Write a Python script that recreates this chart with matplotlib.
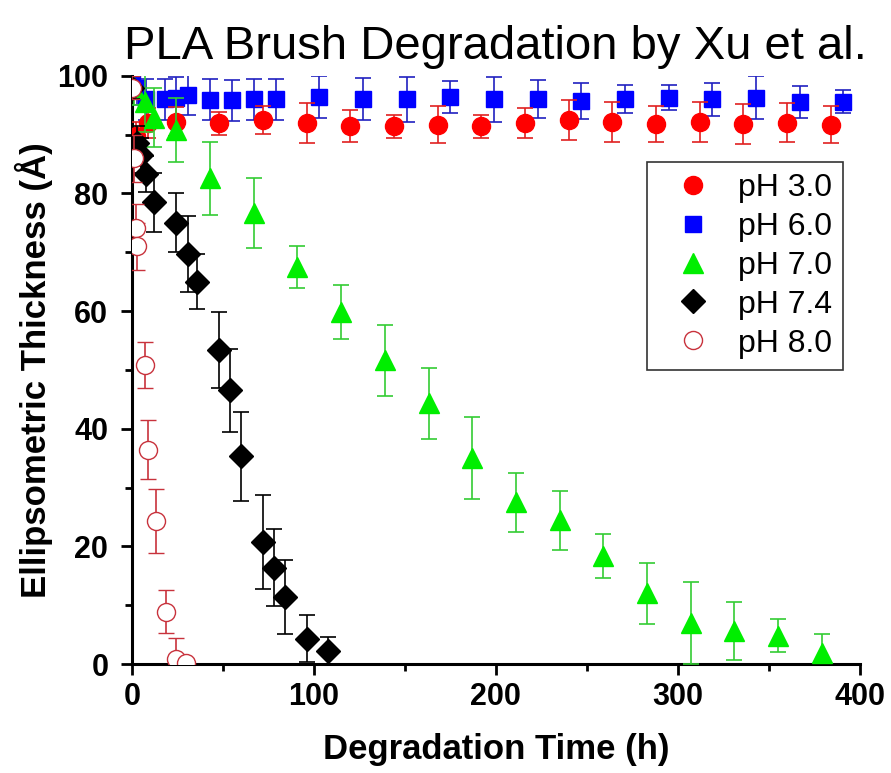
import matplotlib
matplotlib.use("Agg")
import matplotlib.pyplot as plt
from matplotlib.lines import Line2D
from matplotlib.ticker import MultipleLocator

# ---- data ----
ph30_x = [0, 2, 9, 24, 48, 72, 96, 120, 144, 168, 192, 216, 240, 264, 288, 312, 336, 360, 384]
ph30_y = [98, 89.7, 92.0, 92.2, 91.9, 92.5, 92.0, 91.4, 91.4, 91.7, 91.4, 92.0, 92.5, 92.2, 91.8, 92.2, 91.8, 92.0, 91.7]
ph30_e = [2.0, 2.5, 2.5, 2.5, 2.0, 2.4, 3.4, 2.7, 2.0, 3.1, 1.9, 2.6, 3.4, 3.4, 3.1, 3.4, 3.4, 3.3, 3.1]

ph60_x = [0, 3, 8, 18, 24, 31, 43, 55, 67, 79, 103, 127, 151, 175, 199, 223, 247, 271, 295, 319, 343, 367, 391]
ph60_y = [99.0, 98.0, 96.0, 96.0, 96.3, 96.8, 95.9, 95.8, 96.0, 96.0, 96.4, 96.0, 96.0, 96.4, 96.0, 96.0, 95.7, 96.0, 96.3, 96.0, 96.3, 95.6, 95.6]
ph60_e = [2.0, 3.0, 3.5, 3.5, 3.5, 3.5, 3.5, 3.5, 3.5, 3.5, 3.6, 3.6, 3.8, 2.7, 3.8, 3.2, 3.1, 2.4, 2.1, 2.8, 3.6, 2.7, 1.9]

ph70_x = [1, 7, 12, 24, 43, 67, 91, 115, 139, 163, 187, 211, 235, 259, 283, 307, 331, 355, 379]
ph70_y = [98.0, 95.5, 92.9, 90.8, 82.6, 76.7, 67.5, 59.9, 51.6, 44.3, 35.0, 27.5, 24.4, 18.4, 12.0, 7.0, 5.6, 4.8, 1.8]
ph70_e = [3.0, 5.0, 5.0, 5.5, 6.2, 6.0, 3.6, 4.6, 6.0, 6.1, 7.0, 5.0, 5.0, 3.7, 5.2, 7.0, 5.0, 2.8, 3.3]

ph74_x = [0, 3, 5, 8, 12, 24, 31, 36, 48, 54, 60, 72, 78, 84, 96, 108]
ph74_y = [98.0, 88.5, 86.5, 83.3, 78.5, 75.0, 69.7, 65.0, 53.4, 46.5, 35.3, 20.7, 16.4, 11.4, 4.3, 2.2]
ph74_e = [2.0, 3.0, 3.0, 3.0, 5.0, 5.0, 6.4, 4.7, 6.5, 7.0, 7.6, 8.0, 6.6, 6.3, 4.0, 2.4]

ph80_x = [0, 1, 2, 3, 7, 9, 13, 19, 24, 30]
ph80_y = [98.0, 86.0, 74.2, 71.0, 50.8, 36.4, 24.3, 8.9, 0.8, 0.2]
ph80_e = [2.0, 4.0, 4.0, 4.0, 3.9, 5.0, 5.4, 3.7, 3.7, 0.7]

labels = ["pH 3.0", "pH 6.0", "pH 7.0", "pH 7.4", "pH 8.0"]

# ---- plot ----
fig = plt.figure(figsize=(8.91, 7.73), dpi=100)
ax = fig.add_axes([0.148, 0.141, 0.817, 0.761])

cap = 5.5
ax.errorbar(ph30_x, ph30_y, yerr=ph30_e, fmt='o', ms=13, color='#ff0000',
            mec='#ff0000', ecolor='#e02020', elinewidth=1.2, capsize=cap, capthick=1.2, zorder=3)
ax.errorbar(ph60_x, ph60_y, yerr=ph60_e, fmt='s', ms=11.5, color='#0000ff',
            mec='#0000ff', ecolor='#2020c0', elinewidth=1.2, capsize=cap, capthick=1.2, zorder=2)
ax.errorbar(ph70_x, ph70_y, yerr=ph70_e, fmt='^', ms=15, color='#00ee00',
            mec='#00ee00', ecolor='#33cc33', elinewidth=1.2, capsize=cap, capthick=1.2, zorder=4)
ax.errorbar(ph74_x, ph74_y, yerr=ph74_e, fmt='D', ms=12, color='black',
            mec='black', ecolor='black', elinewidth=1.2, capsize=cap, capthick=1.2, zorder=5)
ax.errorbar(ph80_x, ph80_y, yerr=ph80_e, fmt='o', ms=13, mfc='white', mec='#c8323c', mew=1.0,
            ecolor='#c8323c', elinewidth=1.2, capsize=cap, capthick=1.2, zorder=6)

ax.set_xlim(0, 400)
ax.set_ylim(0, 100)
ax.xaxis.set_major_locator(MultipleLocator(100))
ax.xaxis.set_minor_locator(MultipleLocator(50))
ax.yaxis.set_major_locator(MultipleLocator(20))
ax.yaxis.set_minor_locator(MultipleLocator(10))

for s in ['top', 'right']:
    ax.spines[s].set_visible(False)
for s in ['left', 'bottom']:
    ax.spines[s].set_linewidth(2.2)

ax.tick_params(which='major', direction='out', length=8, width=2, labelsize=22)
ax.tick_params(axis='y', which='major', pad=9)
ax.tick_params(axis='x', which='major', pad=5)
ax.tick_params(which='minor', direction='out', length=5, width=2)
for lab in ax.get_xticklabels() + ax.get_yticklabels():
    lab.set_fontweight('bold')
    lab.set_fontfamily('Liberation Sans')

ax.set_xlabel("Degradation Time (h)", fontsize=25, fontweight='bold',
              family='Liberation Sans', labelpad=15)
ax.set_ylabel("Ellipsometric Thickness (Å)", fontsize=25, fontweight='bold',
              family='Liberation Sans', labelpad=3)
ax.set_title("PLA Brush Degradation by Xu et al.", fontsize=34,
             family='Liberation Sans', pad=12)

handles = [
    Line2D([], [], ls='none', marker='o', ms=13, color='#ff0000'),
    Line2D([], [], ls='none', marker='s', ms=11.5, color='#0000ff'),
    Line2D([], [], ls='none', marker='^', ms=15, color='#00ee00'),
    Line2D([], [], ls='none', marker='D', ms=12, color='black'),
    Line2D([], [], ls='none', marker='o', ms=13, mfc='white', mec='#c8323c', mew=1.0),
]
leg = ax.legend(handles, labels, loc='upper right', bbox_to_anchor=(0.977, 0.854),
                prop={'family': 'Liberation Sans', 'size': 23}, frameon=True,
                fancybox=False, framealpha=1, edgecolor='#333333',
                borderpad=0.35, handlelength=2.2, handletextpad=0.3,
                labelspacing=0.28, borderaxespad=0)
leg.get_frame().set_linewidth(1.2)

fig.savefig("out.png", dpi=100)
